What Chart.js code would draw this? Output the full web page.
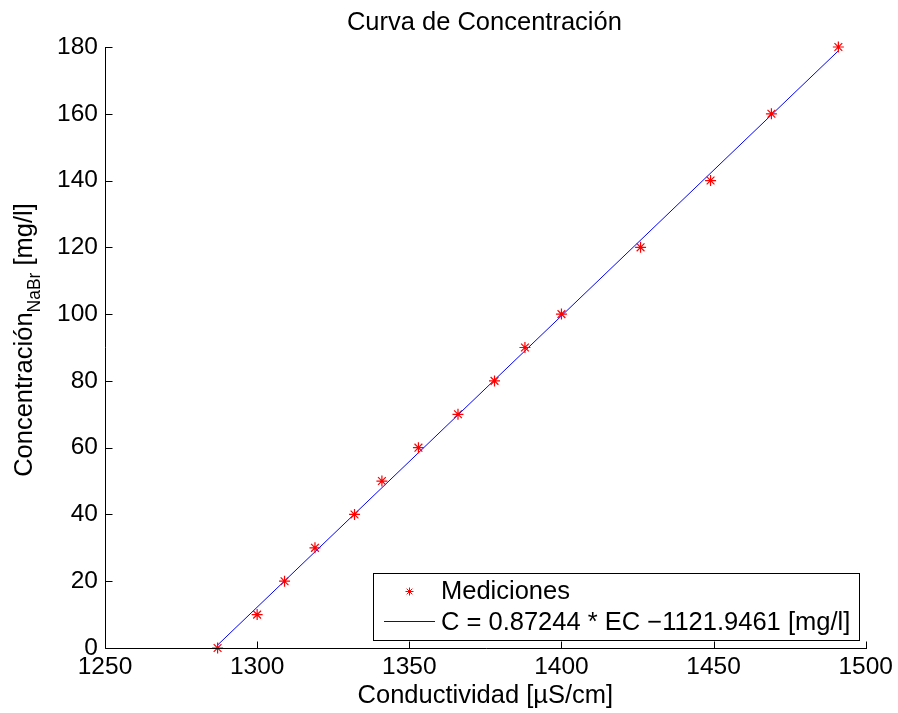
<!DOCTYPE html>
<html>
<head>
<meta charset="utf-8">
<script src="https://cdn.jsdelivr.net/npm/chart.js@4/dist/chart.umd.min.js"></script>
<style>
  html, body { margin: 0; padding: 0; background: #fff; }
  #wrap { width: 898px; height: 713px; position: relative; }
</style>
</head>
<body>
<div id="wrap"><canvas id="curva"></canvas></div>
<script>
// mediciones de conductividad vs concentracion NaBr
const conductividad = [1287, 1300, 1309, 1319, 1332, 1341, 1353, 1366, 1378, 1388, 1400, 1426, 1449, 1469, 1491];
const concentracion = [0, 10, 20, 30, 40, 50, 60, 70, 80, 90, 100, 120, 140, 160, 180];

// ajuste lineal C = m * EC + b
const pendiente = 0.87244;
const intercepto = -1121.9461;

const xTicks = [1250, 1300, 1350, 1400, 1450, 1500];
const yTicks = [0, 20, 40, 60, 80, 100, 120, 140, 160, 180];

const titulo = "Curva de Concentración";
const xTitulo = "Conductividad [µS/cm]";
const yTitulo = ["Concentración", "NaBr", " [mg/l]"];
const etiquetas = ["Mediciones", "C = 0.87244 * EC \u22121121.9461 [mg/l]"];

const FONT = '"Liberation Sans", Arial, Helvetica, sans-serif';

const puntos = conductividad.map((x, i) => ({ x, y: concentracion[i] }));
const xMin = Math.min(...conductividad);
const xMax = Math.max(...conductividad);
const recta = [
  { x: xMin, y: pendiente * xMin + intercepto },
  { x: xMax, y: pendiente * xMax + intercepto },
];

function drawStar(ctx, x, y, r) {
  const d = r * Math.SQRT1_2;
  ctx.beginPath();
  ctx.moveTo(x - r, y); ctx.lineTo(x + r, y);
  ctx.moveTo(x, y - r); ctx.lineTo(x, y + r);
  ctx.moveTo(x - d, y - d); ctx.lineTo(x + d, y + d);
  ctx.moveTo(x - d, y + d); ctx.lineTo(x + d, y - d);
  ctx.stroke();
}

// ejes con marcas hacia dentro, textos y leyenda
const decorado = {
  id: "decorado",
  afterDatasetsDraw(chart) {
    const { ctx, chartArea: a, scales } = chart;
    const sx = scales.x, sy = scales.y;
    ctx.save();
    ctx.strokeStyle = "#000";
    ctx.lineWidth = 1;
    const L = Math.round(a.left) + 0.5;
    const B = Math.round(a.bottom) + 0.5;
    ctx.beginPath();
    ctx.moveTo(L, Math.round(sy.getPixelForValue(180)));
    ctx.lineTo(L, B);
    ctx.lineTo(Math.round(sx.getPixelForValue(1500)) + 1, B);
    xTicks.forEach((v) => {
      const px = Math.round(sx.getPixelForValue(v)) + 0.5;
      ctx.moveTo(px, B); ctx.lineTo(px, B - 7);
    });
    yTicks.forEach((v) => {
      const py = Math.round(sy.getPixelForValue(v)) + 0.5;
      ctx.moveTo(L, py); ctx.lineTo(L + 7, py);
    });
    ctx.stroke();

    // leyenda
    const bx = 373.5, by = 573.5, bw = 486, bh = 67;
    ctx.fillStyle = "#fff";
    ctx.fillRect(bx, by, bw, bh);
    ctx.strokeRect(bx, by, bw, bh);
    ctx.strokeStyle = "#ff0000";
    drawStar(ctx, 409.5, 591.5, 4);
    ctx.strokeStyle = "#0000ff";
    ctx.beginPath();
    ctx.moveTo(384, 621.5); ctx.lineTo(435, 621.5);
    ctx.stroke();
    ctx.fillStyle = "#000";
    ctx.font = "25.5px " + FONT;
    ctx.textAlign = "left";
    ctx.textBaseline = "alphabetic";
    ctx.fillText(etiquetas[0], 441, 599);
    ctx.fillText(etiquetas[1], 441, 630);

    // titulo y eje x
    const cx = (a.left + a.right) / 2;
    ctx.textAlign = "center";
    ctx.fillText(titulo, cx - 1, 30);
    ctx.fillText(xTitulo, cx, 703);

    // eje y con subindice
    ctx.textAlign = "left";
    const f1 = "25.5px " + FONT, f2 = "17.5px " + FONT;
    ctx.font = f1;
    const w0 = ctx.measureText(yTitulo[0]).width;
    const w2 = ctx.measureText(yTitulo[2]).width;
    ctx.font = f2;
    const w1 = ctx.measureText(yTitulo[1]).width;
    const total = w0 + w1 + w2;
    ctx.translate(32, 340);
    ctx.rotate(-Math.PI / 2);
    let t = -total / 2;
    ctx.font = f1;
    ctx.fillText(yTitulo[0], t, 0);
    t += w0;
    ctx.font = f2;
    ctx.fillText(yTitulo[1], t, 8);
    t += w1;
    ctx.font = f1;
    ctx.fillText(yTitulo[2], t, 0);
    ctx.restore();
  },
};

new Chart(document.getElementById("curva"), {
  type: "scatter",
  data: {
    datasets: [
      {
        label: etiquetas[0],
        data: puntos,
        showLine: false,
        pointStyle: "star",
        pointRadius: 5.5,
        pointBorderWidth: 1.2,
        borderColor: "#ff0000",
        backgroundColor: "#ff0000",
        clip: false,
        order: 1,
      },
      {
        label: etiquetas[1],
        data: recta,
        showLine: true,
        pointRadius: 0,
        borderColor: "#0000ff",
        borderWidth: 1,
        clip: false,
        order: 2,
      },
    ],
  },
  options: {
    responsive: true,
    maintainAspectRatio: false,
    animation: false,
    events: [],
    layout: { padding: { top: 47, right: 32, left: 0, bottom: 0 } },
    plugins: { legend: { display: false }, tooltip: { enabled: false }, title: { display: false } },
    scales: {
      x: {
        type: "linear",
        min: 1250,
        max: 1500,
        afterFit: (s) => { s.height = 65; },
        afterBuildTicks: (s) => { s.ticks = xTicks.map((v) => ({ value: v })); },
        grid: { display: false, drawTicks: false },
        border: { display: false },
        ticks: {
          color: "#000",
          font: { size: 24.5, family: FONT },
          padding: 5,
          maxRotation: 0,
          autoSkip: false,
          callback: (v) => String(v),
        },
      },
      y: {
        type: "linear",
        min: 0,
        max: 180,
        afterFit: (s) => { s.width = 105; },
        afterBuildTicks: (s) => { s.ticks = yTicks.map((v) => ({ value: v })); },
        grid: { display: false, drawTicks: false },
        border: { display: false },
        ticks: { color: "#000", font: { size: 24.5, family: FONT }, padding: 7, autoSkip: false, callback: (v) => String(v) },
      },
    },
  },
  plugins: [decorado],
});
</script>
</body>
</html>
